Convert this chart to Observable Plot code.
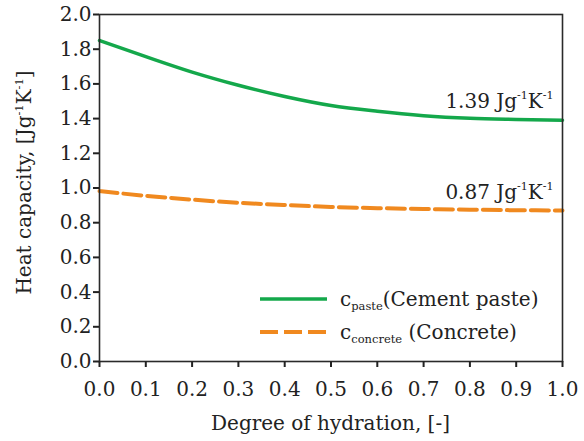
<!DOCTYPE html>
<html><head><meta charset="utf-8">
<script src="https://cdn.jsdelivr.net/npm/d3@7"></script>
<script src="https://cdn.jsdelivr.net/npm/@observablehq/plot@0.6"></script>
<style>body{margin:0;background:#fff}</style>
</head><body><div id="chart"></div>
<script>
// ---- data ----
const hydration = [0.0, 0.1, 0.2, 0.3, 0.4, 0.5, 0.6, 0.7, 0.8, 0.9, 1.0];
const cPaste    = [1.850, 1.757, 1.668, 1.592, 1.527, 1.475, 1.442, 1.417, 1.402, 1.395, 1.390];
const cConcrete = [0.982, 0.955, 0.933, 0.915, 0.902, 0.891, 0.884, 0.879, 0.875, 0.872, 0.870];
const seriesKeys = ["paste", "concrete"];
const legendLabels = ["c_{paste}(Cement paste)", "c_{concrete} (Concrete)"];
const endLabels = ["1.39 Jg^{-1}K^{-1}", "0.87 Jg^{-1}K^{-1}"];
const endValues = [1.39, 0.87];
const xTicks = [0.0, 0.1, 0.2, 0.3, 0.4, 0.5, 0.6, 0.7, 0.8, 0.9, 1.0];
const yTicks = [0.0, 0.2, 0.4, 0.6, 0.8, 1.0, 1.2, 1.4, 1.6, 1.8, 2.0];
const xTitle = "Degree of hydration, [-]";
const yTitle = "Heat capacity, [Jg^{-1}K^{-1}]";
const colors = ["#14a84b", "#f0891f"];

const pasteRows = hydration.map((x, i) => ({x, y: cPaste[i]}));
const concreteRows = hydration.map((x, i) => ({x, y: cConcrete[i]}));
const endRows = endValues.map((y, i) => ({x: hydration[hydration.length - 1], y, label: endLabels[i]}));

const W = 584, H = 441;
const mL = 99, mR = 22, mT = 14, mB = 80;
const FONT = "DejaVu Serif";

const plot = Plot.plot({
  width: W, height: H,
  marginLeft: mL, marginRight: mR, marginTop: mT, marginBottom: mB,
  style: {fontFamily: FONT, fontSize: "20px", color: "#222", background: "#fff"},
  x: {domain: [0, 1]},
  y: {domain: [0, 2]},
  marks: [
    Plot.line(concreteRows, {x: "x", y: "y", stroke: colors[1], strokeWidth: 4, strokeDasharray: "18,6", curve: "monotone-x"}),
    Plot.line(pasteRows, {x: "x", y: "y", stroke: colors[0], strokeWidth: 3.5, curve: "monotone-x"}),
    Plot.frame({stroke: "#2a2a2a", strokeWidth: 1.6}),
    Plot.axisX({ticks: xTicks, tickFormat: d3.format(".1f"), tickSize: 6, tickPadding: 14, fontSize: 20, strokeWidth: 2, label: null}),
    Plot.axisY({ticks: yTicks, tickFormat: d3.format(".1f"), tickSize: 6, tickPadding: 2, fontSize: 20, strokeWidth: 2, label: null}),
    Plot.text(endRows, {x: "x", y: "y", text: "label", textAnchor: "end", lineAnchor: "bottom", dx: -9, dy: -12, fontSize: 20, fill: "#222"})
  ]
});
document.getElementById("chart").appendChild(plot);

// rich text helper: ^{..} superscript, _{..} subscript
function rich(sel, str, size, smallSize, supShift, subShift) {
  sel.text(null);
  const parts = str.split(/(\^\{[^}]*\}|_\{[^}]*\})/).filter(s => s);
  let cur = 0;
  for (const p of parts) {
    let t = p, target = 0, fs = null;
    if (p.startsWith("^{")) { t = p.slice(2, -1); target = -size * supShift; fs = smallSize; }
    else if (p.startsWith("_{")) { t = p.slice(2, -1); target = size * subShift; fs = smallSize; }
    const ts = sel.append("tspan").text(t).attr("dy", target - cur);
    if (fs) ts.attr("font-size", fs);
    cur = target;
  }
}

const svg = d3.select(plot);
svg.selectAll("text").each(function () {
  const s = this.textContent;
  if (s.includes("^{")) rich(d3.select(this), s, 20, 11, 0.45, 0.2);
});

// axis titles
svg.append("text").attr("x", (mL + W - mR) / 2).attr("y", 430)
  .attr("text-anchor", "middle").attr("font-size", 20).attr("fill", "#222").text(xTitle);
const yt = svg.append("text").attr("transform", `translate(31,${(mT + H - mB) / 2 - 5}) rotate(-90)`)
  .attr("text-anchor", "middle").attr("font-size", 20).attr("fill", "#222");
rich(yt, yTitle, 20, 11.5, 0.42, 0.2);

// legend
const lg = svg.append("g");
const rowsY = [299, 332];
const strokeW = [3.5, 4];
const dashes = [null, "18,6"];
legendLabels.forEach((lab, i) => {
  const ln = lg.append("line").attr("x1", 260).attr("x2", 327).attr("y1", rowsY[i]).attr("y2", rowsY[i])
    .attr("stroke", colors[i]).attr("stroke-width", strokeW[i]);
  if (dashes[i]) ln.attr("stroke-dasharray", dashes[i]);
  const t = lg.append("text").attr("x", 340).attr("y", rowsY[i] + 7).attr("text-anchor", "start")
    .attr("font-size", 20).attr("fill", "#222");
  rich(t, lab, 20, 11.5, 0.4, 0.22);
});
svg.selectAll("text").attr("font-family", FONT);
</script>
</body></html>
